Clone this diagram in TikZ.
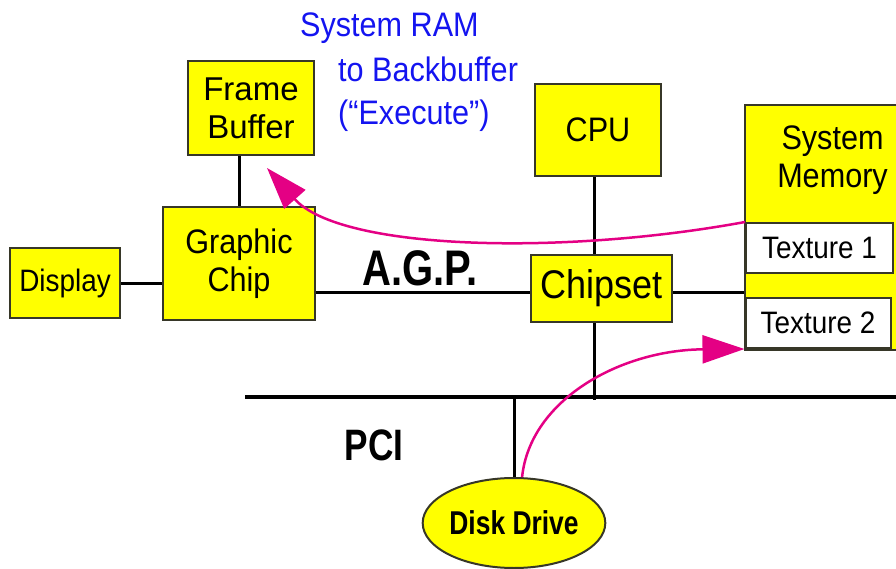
\documentclass[tikz,border=0pt]{standalone}
\usepackage{fontspec}
\setmainfont{Liberation Sans}
\newfontfamily\boxfont{Liberation Sans}[FakeStretch=0.9]
\newfontfamily\busfont{Liberation Sans}[FakeStretch=0.8]
\usetikzlibrary{shapes.geometric, arrows.meta, positioning, calc}
\usepackage{xcolor}
\definecolor{chipYellow}{RGB}{255,255,0}
\definecolor{edgeGray}{RGB}{55,55,40}
\definecolor{flowPink}{RGB}{228,0,132}
\definecolor{noteBlue}{RGB}{20,20,240}
\newcommand{\pxsize}[1]{\fontsize{#1}{38}\selectfont}

\begin{document}
\begin{tikzpicture}[
    x=1pt, y=-1pt,
    part/.style={rectangle, draw=edgeGray, line width=2pt, fill=chipYellow, inner sep=0pt, align=center, font=\boxfont\pxsize{34}},
    texbox/.style={part, fill=white, minimum width=147pt, minimum height=50pt, font=\boxfont\pxsize{31}},
    wire/.style={line width=3pt},
    buslabel/.style={anchor=base, inner sep=0pt, font=\busfont\bfseries\pxsize{50}},
    note/.style={anchor=base west, inner sep=0pt, text=noteBlue, font=\boxfont\pxsize{34}},
    flow/.style={draw=flowPink, line width=2.5pt, -{Triangle[length=42pt,width=28pt]}}
]
\useasboundingbox (0,0) rectangle (896,569);
\clip (0,0) rectangle (896,569);

% boxes
\node[part, minimum width=152pt, minimum height=113pt] (gc) at (239,263.5) {Graphic\\Chip};
\node[part, minimum width=126pt, minimum height=94pt, font=\pxsize{33}, above=50pt of gc, xshift=12pt] (fb) {Frame\\Buffer};
\node[part, minimum width=110pt, minimum height=70pt, font=\boxfont\pxsize{31}, left=41pt of gc, yshift=-19.5pt] (disp) {Display};
\node[part, minimum width=141pt, minimum height=67pt, font=\boxfont\pxsize{40}] (chip) at (601.5,288.5) {Chipset};
\node[part, minimum width=126pt, minimum height=92pt, above=77pt of chip, xshift=-3.5pt] (cpu) {CPU};
\node[part, minimum width=175pt, minimum height=245pt,
      label={[anchor=north, yshift=-22pt, align=center, inner sep=0pt, font=\boxfont\pxsize{34}]north:{System\\Memory}}] (sysmem) at (832.5,227.5) {};
\node[texbox] (tex1) at (819.5,248) {Texture 1};
\node[texbox, minimum width=145pt] (tex2) at (818,323) {Texture 2};
\node[ellipse, draw=edgeGray, line width=2pt, fill=chipYellow, minimum width=154pt, minimum height=90pt, inner sep=0pt, font=\busfont\bfseries\pxsize{33}] (disk) at (514,523) {Disk Drive};

% buses
\coordinate (pciL) at (245,397);
\coordinate (pciR) at (900,397);
\draw[line width=4pt] (pciL) -- (pciR);
\node[buslabel] (agp) at (420,285) {A.G.P.};
\node[buslabel, font=\busfont\bfseries\pxsize{44}] (pci) at (374,460) {PCI};

\draw[wire] (disp.east) -- (disp.east -| gc.west);
\draw[wire] (gc.north) -- (gc.north |- fb.south);
\draw[wire] ([yshift=-4pt]chip.west) -- ([yshift=-4pt]chip.west -| gc.east);
\draw[wire] ([yshift=-4pt]chip.east) -- ([yshift=-4pt]chip.east -| sysmem.west);
\draw[wire] ([xshift=-7pt]chip.north) -- ([xshift=-7pt]chip.north |- cpu.south);
\draw[wire] ([xshift=-7pt]chip.south) -- ([xshift=-7pt,yshift=-3pt]chip.south |- pciL);
\draw[wire] (disk.north) -- (disk.north |- pciL);

% transfers
\node[note] (ramline1) at (300,37) {System RAM};
\node[note] (ramline2) at (338,82) {to Backbuffer};
\node[note] (ramline3) at (338,125) {(“Execute”)};
\coordinate (fbdst) at (267,168);
\draw[flow] (tex1.north west) .. controls (560,256) and (340,250) .. (fbdst);
\draw[flow] (disk.80) .. controls (530,400) and (620,350) .. (tex2.south west);

\end{tikzpicture}
\end{document}
